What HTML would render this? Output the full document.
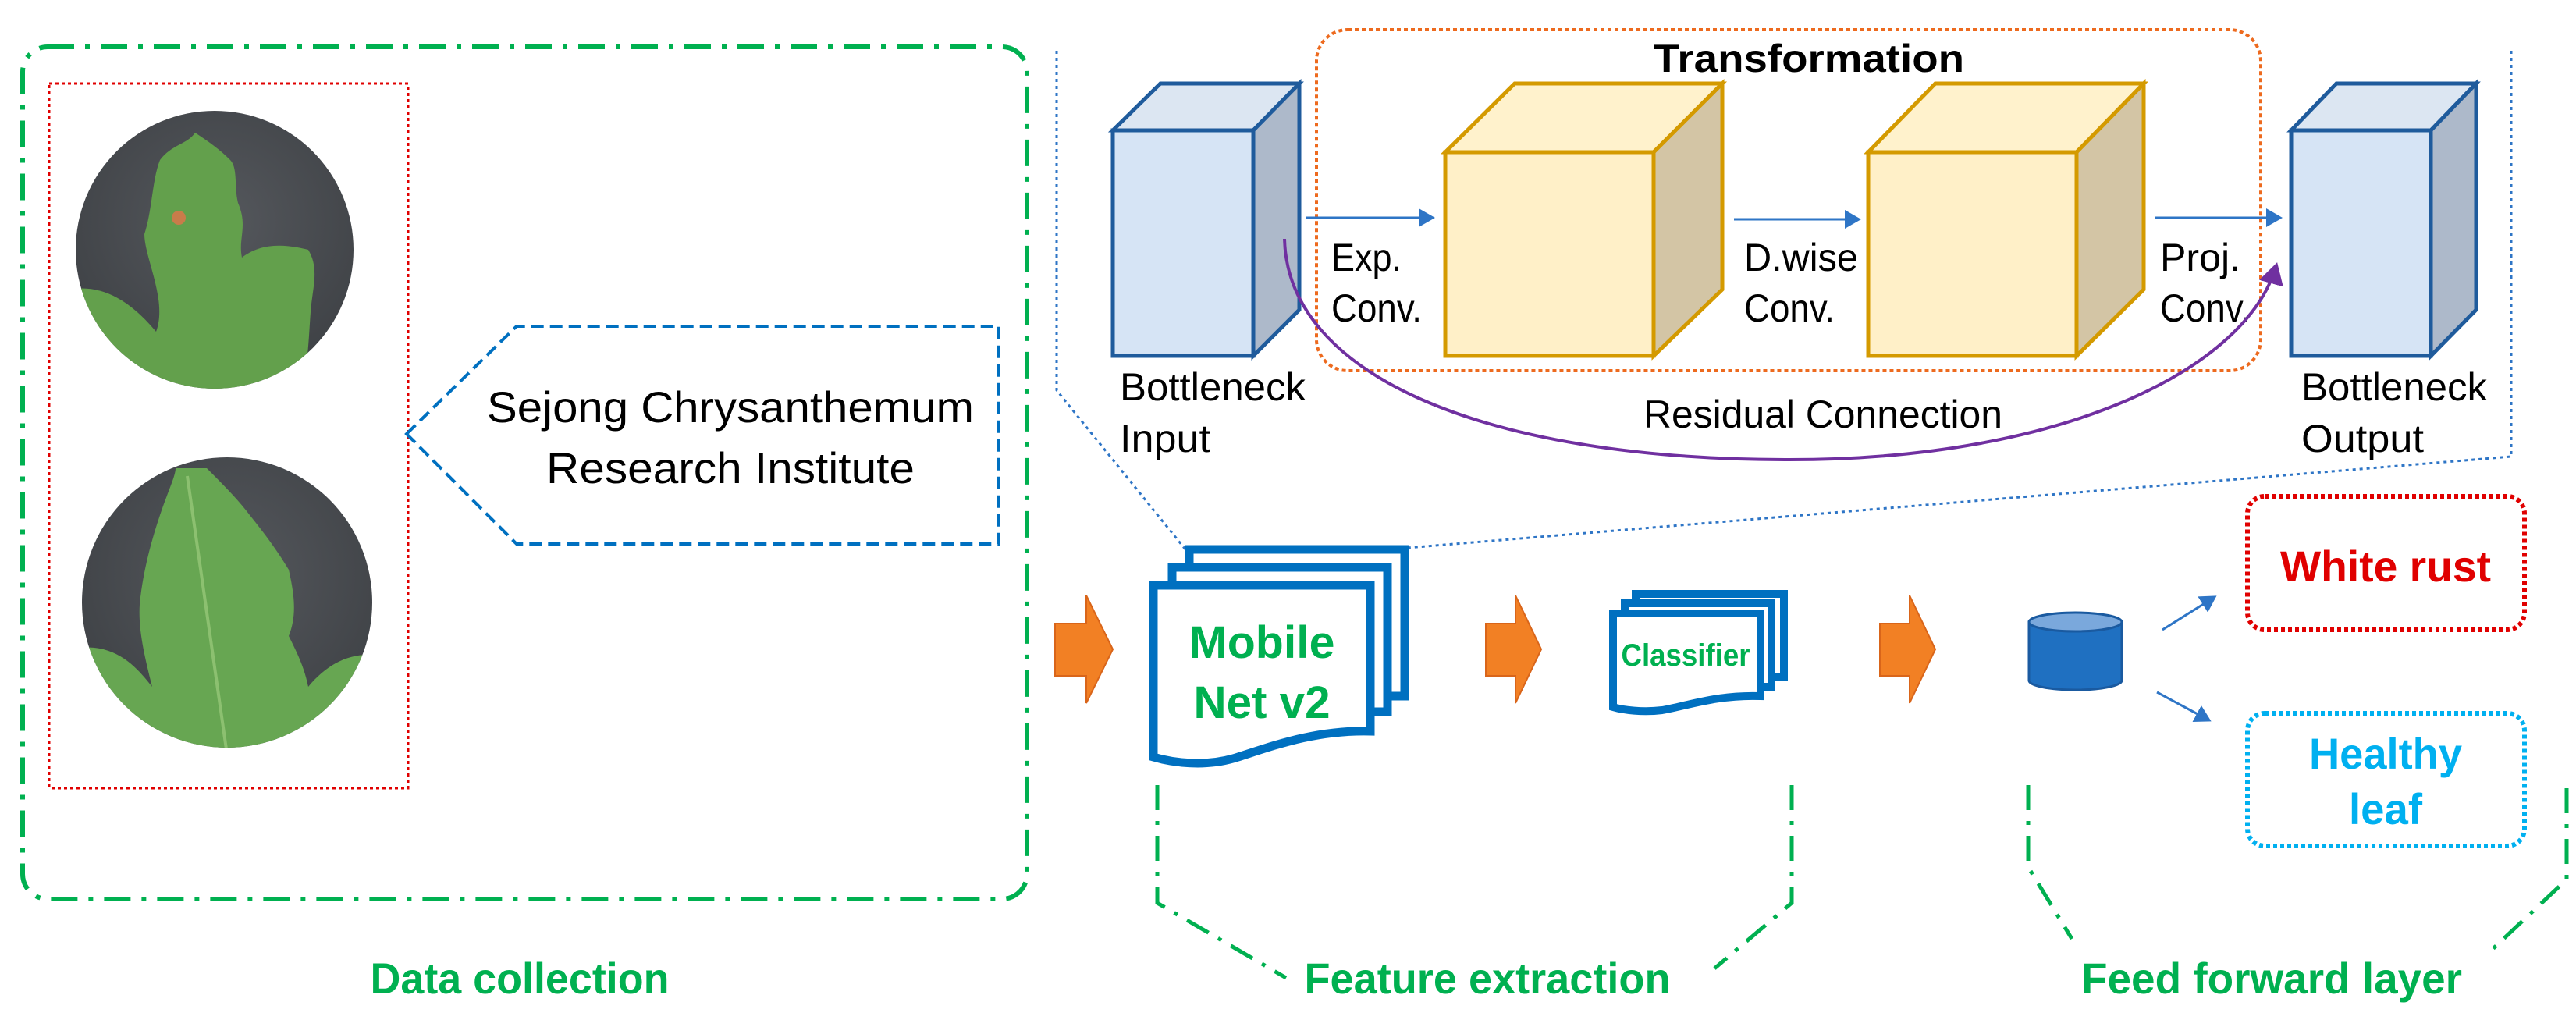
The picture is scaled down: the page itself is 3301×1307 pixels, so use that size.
<!DOCTYPE html>
<html><head><meta charset="utf-8"><style>
html,body{margin:0;padding:0;background:#fff;}
svg{display:block;}
text{font-family:"Liberation Sans",sans-serif;}
</style></head><body>
<svg width="3301" height="1307" viewBox="0 0 3301 1307" xmlns="http://www.w3.org/2000/svg">
<defs>
<clipPath id="c1"><circle cx="275" cy="320" r="178"/></clipPath>
<clipPath id="c2"><circle cx="291" cy="772" r="186"/></clipPath>
<radialGradient id="bg" cx="0.5" cy="0.4" r="0.6"><stop offset="0" stop-color="#55585d"/><stop offset="1" stop-color="#3e4145"/></radialGradient>
<marker id="ab" markerWidth="8" markerHeight="8" refX="6" refY="4" orient="auto" markerUnits="strokeWidth"><path d="M0,0 L7,4 L0,8 Z" fill="#2e75c6"/></marker>
<marker id="ap" markerWidth="8" markerHeight="8" refX="6" refY="4" orient="auto" markerUnits="strokeWidth"><path d="M0,0 L7,4 L0,8 Z" fill="#7030a0"/></marker>
</defs>

<!-- Data collection box -->
<rect x="29" y="60" width="1287" height="1092" rx="32" fill="none" stroke="#00b050" stroke-width="6" stroke-dasharray="34 14 6 14"/>
<rect x="63" y="107" width="460" height="903" fill="none" stroke="#e00000" stroke-width="3" stroke-dasharray="4 4"/>

<!-- leaf 1 -->
<g clip-path="url(#c1)">
<rect x="90" y="140" width="380" height="360" fill="url(#bg)"/>
<path d="M95,370 C140,365 175,395 200,425 C215,385 185,330 185,300 C195,270 195,230 205,205 C220,185 240,185 250,170 C265,180 280,190 295,205 C305,215 300,240 305,260 C318,290 305,305 310,330 C330,315 355,310 395,320 C410,345 400,370 398,400 C395,440 395,480 380,510 L95,510 Z" fill="#63a04c"/>
<circle cx="229" cy="279" r="9" fill="#c97c4a"/>
</g>
<!-- leaf 2 -->
<g clip-path="url(#c2)">
<rect x="100" y="580" width="390" height="390" fill="url(#bg)"/>
<path d="M100,830 C150,825 175,855 195,880 C185,840 175,800 180,765 C185,725 195,690 205,660 C215,630 225,610 225,600 L265,600 C285,620 305,640 320,660 C340,685 355,705 370,730 C378,765 380,790 370,815 C380,835 390,855 395,880 C420,850 450,835 485,840 L490,970 L100,970 Z" fill="#67a652"/>
<path d="M240,610 L290,960" stroke="#8cc070" stroke-width="4" fill="none"/>
</g>

<!-- pentagon -->
<path d="M521,556 L662,418 L1280,418 L1280,697 L662,697 Z" fill="none" stroke="#0070c0" stroke-width="4" stroke-dasharray="16 8"/>
<text x="936" y="541" font-size="56" text-anchor="middle" fill="#000" textLength="624" lengthAdjust="spacingAndGlyphs">Sejong Chrysanthemum</text>
<text x="936" y="619" font-size="56" text-anchor="middle" fill="#000" textLength="472" lengthAdjust="spacingAndGlyphs">Research Institute</text>
<text x="666" y="1273" font-size="56" font-weight="bold" text-anchor="middle" fill="#00b050" textLength="383" lengthAdjust="spacingAndGlyphs">Data collection</text>

<!-- zoom lines -->
<path d="M1354,65 L1354,500 L1519,704" fill="none" stroke="#2e75c6" stroke-width="3" stroke-dasharray="4 5"/>
<path d="M3218,65 L3218,585 L1803,702" fill="none" stroke="#2e75c6" stroke-width="3" stroke-dasharray="4 5"/>

<!-- Transformation box -->
<rect x="1687" y="38" width="1210" height="437" rx="40" fill="none" stroke="#ed6a1e" stroke-width="4" stroke-dasharray="5 4"/>
<text x="2318" y="92" font-size="50" font-weight="bold" text-anchor="middle" fill="#000" textLength="398" lengthAdjust="spacingAndGlyphs">Transformation</text>

<!-- blue cube left -->
<g stroke="#1f5b9c" stroke-width="5" stroke-linejoin="miter">
<path d="M1426,167 L1487,107 L1665,107 L1606,167 Z" fill="#dce6f2"/>
<path d="M1606,167 L1665,107 L1665,397 L1606,456 Z" fill="#adb9ca"/>
<rect x="1426" y="167" width="180" height="289" fill="#d6e4f5"/>
</g>
<!-- yellow cube 1 -->
<g stroke="#d49a00" stroke-width="5">
<path d="M1852,195 L1941,107 L2207,107 L2119,195 Z" fill="#fff2cc"/>
<path d="M2119,195 L2207,107 L2207,371 L2119,456 Z" fill="#d3c5a5"/>
<rect x="1852" y="195" width="267" height="261" fill="#fff0c8"/>
</g>
<!-- yellow cube 2 -->
<g stroke="#d49a00" stroke-width="5">
<path d="M2394,195 L2480,107 L2747,107 L2661,195 Z" fill="#fff2cc"/>
<path d="M2661,195 L2747,107 L2747,371 L2661,456 Z" fill="#d3c5a5"/>
<rect x="2394" y="195" width="267" height="261" fill="#fff0c8"/>
</g>
<!-- blue cube right -->
<g stroke="#1f5b9c" stroke-width="5">
<path d="M2936,167 L2994,107 L3173,107 L3115,167 Z" fill="#dce6f2"/>
<path d="M3115,167 L3173,107 L3173,397 L3115,456 Z" fill="#adb9ca"/>
<rect x="2936" y="167" width="179" height="289" fill="#d6e4f5"/>
</g>

<!-- arrows -->
<g stroke="#2e75c6" stroke-width="3" fill="none">
<line x1="1674" y1="279" x2="1836" y2="279" marker-end="url(#ab)"/>
<line x1="2222" y1="281" x2="2382" y2="281" marker-end="url(#ab)"/>
<line x1="2762" y1="279" x2="2922" y2="279" marker-end="url(#ab)"/>
</g>
<g font-size="50" fill="#000">
<text x="1706" y="347" textLength="90" lengthAdjust="spacingAndGlyphs">Exp.</text><text x="1706" y="412" textLength="116" lengthAdjust="spacingAndGlyphs">Conv.</text>
<text x="2235" y="347" textLength="146" lengthAdjust="spacingAndGlyphs">D.wise</text><text x="2235" y="412" textLength="116" lengthAdjust="spacingAndGlyphs">Conv.</text>
<text x="2768" y="347" textLength="103" lengthAdjust="spacingAndGlyphs">Proj.</text><text x="2768" y="412" textLength="116" lengthAdjust="spacingAndGlyphs">Conv.</text>
<text x="1435" y="513" textLength="238" lengthAdjust="spacingAndGlyphs">Bottleneck</text><text x="1435" y="579" textLength="116" lengthAdjust="spacingAndGlyphs">Input</text>
<text x="2949" y="513" textLength="238" lengthAdjust="spacingAndGlyphs">Bottleneck</text><text x="2949" y="579" textLength="157" lengthAdjust="spacingAndGlyphs">Output</text>
<text x="2336" y="548" text-anchor="middle" textLength="460" lengthAdjust="spacingAndGlyphs">Residual Connection</text>
</g>
<!-- residual arc -->
<path d="M1646,306 C1650,480 1900,589 2293,589 C2650,589 2880,470 2917,340" fill="none" stroke="#7030a0" stroke-width="4" marker-end="url(#ap)"/>

<!-- orange block arrows -->
<g fill="#f28024" stroke="#d9651a" stroke-width="2">
<path d="M1352,799 L1392,799 L1392,763 L1426,832 L1392,901 L1392,866 L1352,866 Z"/>
<path d="M1904,799 L1942,799 L1942,763 L1975,832 L1942,901 L1942,866 L1904,866 Z"/>
<path d="M2409,799 L2447,799 L2447,763 L2480,832 L2447,901 L2447,866 L2409,866 Z"/>
</g>

<!-- MobileNet docs -->
<g fill="#fff" stroke="#0070c0" stroke-width="11">
<path d="M1524,704 H1800 V892 H1524 Z"/>
<path d="M1502,727 H1778 V912 H1502 Z"/>
<path d="M1478,750 H1756 V937 C1680,935 1620,960 1580,972 C1545,982 1505,978 1478,970 Z"/>
</g>
<text x="1617" y="843" font-size="58" font-weight="bold" text-anchor="middle" fill="#00b050" textLength="187" lengthAdjust="spacingAndGlyphs">Mobile</text>
<text x="1617" y="920" font-size="58" font-weight="bold" text-anchor="middle" fill="#00b050" textLength="175" lengthAdjust="spacingAndGlyphs">Net v2</text>

<!-- Classifier docs -->
<g fill="#fff" stroke="#0070c0" stroke-width="10">
<path d="M2096,761 H2286 V868 H2096 Z"/>
<path d="M2082,773 H2270 V880 H2082 Z"/>
<path d="M2067,786 H2256 V892 C2200,890 2160,905 2130,910 C2105,913 2080,910 2067,906 Z"/>
</g>
<text x="2160" y="853" font-size="40" font-weight="bold" text-anchor="middle" fill="#00b050" textLength="165" lengthAdjust="spacingAndGlyphs">Classifier</text>

<!-- cylinder -->
<path d="M2600,797 L2600,872 A59.5,12 0 0 0 2719,872 L2719,797 Z" fill="#1f70c1" stroke="#1a5aa0" stroke-width="3"/>
<ellipse cx="2659.5" cy="797" rx="59.5" ry="12" fill="#7aa8dc" stroke="#1a5aa0" stroke-width="3"/>
<g stroke="#2e75c6" stroke-width="3">
<line x1="2771" y1="807" x2="2838" y2="765" marker-end="url(#ab)"/>
<line x1="2764" y1="887" x2="2831" y2="923" marker-end="url(#ab)"/>
</g>

<!-- outputs -->
<rect x="2880" y="636" width="355" height="171" rx="22" fill="none" stroke="#e00000" stroke-width="6" stroke-dasharray="5 4"/>
<text x="3057" y="745" font-size="56" font-weight="bold" text-anchor="middle" fill="#e00000" textLength="270" lengthAdjust="spacingAndGlyphs">White rust</text>
<rect x="2880" y="914" width="355" height="170" rx="22" fill="none" stroke="#00b0f0" stroke-width="6" stroke-dasharray="5 4"/>
<text x="3057" y="985" font-size="56" font-weight="bold" text-anchor="middle" fill="#00b0f0" textLength="196" lengthAdjust="spacingAndGlyphs">Healthy</text>
<text x="3057" y="1056" font-size="56" font-weight="bold" text-anchor="middle" fill="#00b0f0" textLength="94" lengthAdjust="spacingAndGlyphs">leaf</text>

<!-- brackets -->
<g fill="none" stroke="#00b050" stroke-width="5" stroke-dasharray="32 14 5 14">
<path d="M1483,1006 L1483,1157 L1648,1253"/>
<path d="M2296,1006 L2296,1157 L2197,1241"/>
<path d="M2599,1006 L2599,1111 L2655,1203"/>
<path d="M3289,1010 L3289,1127 L3190,1220"/>
</g>
<text x="1906" y="1273" font-size="56" font-weight="bold" text-anchor="middle" fill="#00b050" textLength="469" lengthAdjust="spacingAndGlyphs">Feature extraction</text>
<text x="2911" y="1273" font-size="56" font-weight="bold" text-anchor="middle" fill="#00b050" textLength="488" lengthAdjust="spacingAndGlyphs">Feed forward layer</text>
</svg>
</body></html>
